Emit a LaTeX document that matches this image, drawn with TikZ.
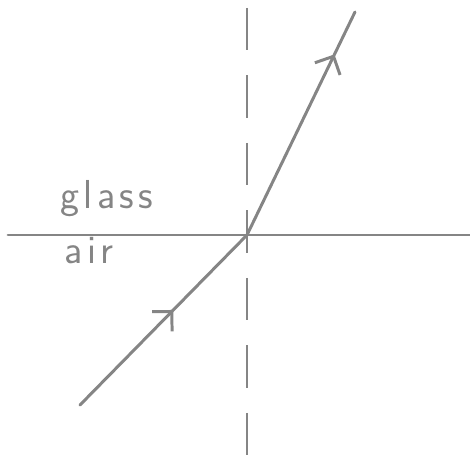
\documentclass[tikz,border=0pt]{standalone}
\usepackage{fontspec}
\usepackage{tikz}
\usepackage{xcolor}
\usetikzlibrary{arrows.meta,decorations.markings}
\newfontfamily\handfont[LetterSpace=11]{Latin Modern Sans}
\definecolor{pengray}{HTML}{858585}

\begin{document}
\begin{tikzpicture}[
  x=0.02cm, y=-0.02cm,
  ray/.style={draw=pengray, line width=1.7pt, line cap=round},
  normal/.style={draw=pengray, line width=1.7pt, dash pattern=on 0.85cm off 0.5cm},
  raymark/.style={postaction={decorate}, decoration={markings,
      mark=at position #1 with {\arrow{Straight Barb[length=2.8mm,width=5.6mm,line width=1.7pt]}}}},
  medium/.style={font=\handfont\fontsize{23}{25}\selectfont, text=pengray, anchor=base west, inner sep=0pt},
]
\useasboundingbox (0,0) rectangle (470,466);
% interface and normal
\coordinate (o) at (247,235);
\coordinate (west) at (8,235);
\coordinate (east) at (470,235);
\coordinate (top) at (247,8);
\coordinate (bottom) at (247,466);
\draw[ray] (west) -- (east);
\draw[normal] (top) -- (bottom);
% rays
\coordinate (src) at (80,405);
\coordinate (out) at (355,12);
\draw[ray, raymark=0.56] (src) -- (o);
\draw[ray, raymark=0.81] (o) -- (out);
% labels
\node[medium] (glass) at (60,208) {glass};
\node[medium] (air) at (64,263) {air};
\end{tikzpicture}
\end{document}
